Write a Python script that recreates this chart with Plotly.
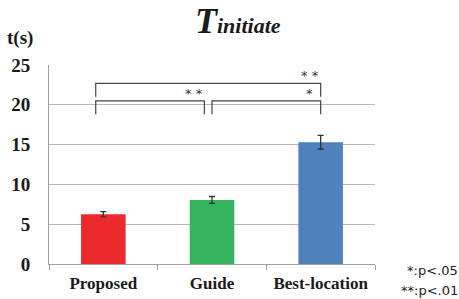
import plotly.graph_objects as go

categories = ["Proposed", "Guide", "Best-location"]
values = [6.25, 8.05, 15.3]
errors = [0.33, 0.43, 0.85]
colors = ["#ec2a2e", "#35b35e", "#4f81bd"]
y_ticks = [0, 5, 10, 15, 20, 25]

# significance brackets: (x_start, x_end, y_top, y_bottom_left, y_bottom_right, label)
brackets = [
    (-0.07, 2.0, 22.7, 21.0, 21.0, "* *"),
    (-0.07, 0.93, 20.5, 18.8, 18.8, "* *"),
    (1.0, 2.0, 20.5, 18.8, 18.8, "*"),
]

fig = go.Figure()
fig.add_trace(go.Bar(
    x=categories, y=values, width=0.41,
    marker=dict(color=colors, line=dict(width=0)),
    error_y=dict(type="data", array=errors, color="#333333", thickness=1.3, width=3),
))

serif = "Liberation Serif"
shapes = []
annotations = []
for x0, x1, yt, yl, yr, lab in brackets:
    shapes.append(dict(type="path", xref="x", yref="y",
                       path=f"M {x0},{yl} L {x0},{yt} L {x1},{yt} L {x1},{yr}",
                       line=dict(color="#444444", width=1.2)))
    annotations.append(dict(x=x1 - 0.1, y=yt, xref="x", yref="y", text=lab,
                            showarrow=False, yanchor="bottom", yshift=-2,
                            font=dict(family="DejaVu Sans", size=13, color="#333333")))

annotations += [
    dict(x=0.58, y=1.0, xref="paper", yref="paper", xanchor="center", yanchor="bottom", yshift=22,
         showarrow=False,
         text="<b><i><span style='font-size:36px'>T</span><span style='font-size:22px'>initiate</span></i></b>",
         font=dict(family=serif, color="#1a1a1a")),
    dict(x=-0.135, y=1.0, xref="paper", yref="paper", xanchor="left", yanchor="bottom", yshift=14,
         showarrow=False, text="<b>t(s)</b>",
         font=dict(family=serif, size=19, color="#1a1a1a")),
    dict(x=1.262, y=0.0, xref="paper", yref="paper", xanchor="right", yanchor="middle", yshift=-6,
         showarrow=False, text="*:p<.05",
         font=dict(family="DejaVu Sans", size=13, color="#222222")),
    dict(x=1.262, y=0.0, xref="paper", yref="paper", xanchor="right", yanchor="middle", yshift=-26,
         showarrow=False, text="**:p<.01",
         font=dict(family="DejaVu Sans", size=13, color="#222222")),
]

fig.update_layout(
    width=459, height=299,
    margin=dict(l=49, r=84, t=65, b=35),
    paper_bgcolor="white", plot_bgcolor="white",
    showlegend=False, bargap=0.59,
    shapes=shapes, annotations=annotations,
    xaxis=dict(type="category", showgrid=False, showline=True, linecolor="#a0a0a0", linewidth=1,
               ticks="outside", tickson="boundaries", ticklen=5, tickcolor="#a0a0a0",
               ticklabelstandoff=4, automargin=False,
               tickfont=dict(family=serif, size=17, color="#1a1a1a", weight="bold")),
    yaxis=dict(range=[0, 25], tickvals=y_ticks, showgrid=True, gridcolor="#b8b8b8", gridwidth=1,
               showline=True, linecolor="#a0a0a0", linewidth=1, zeroline=False, ticks="",
               ticklabelstandoff=14, automargin=False,
               tickfont=dict(family=serif, size=19, color="#1a1a1a", weight="bold")),
)

fig.write_html("out.html", config={"displayModeBar": False},
               post_script="document.body.style.margin='0';document.body.style.overflow='hidden';")
